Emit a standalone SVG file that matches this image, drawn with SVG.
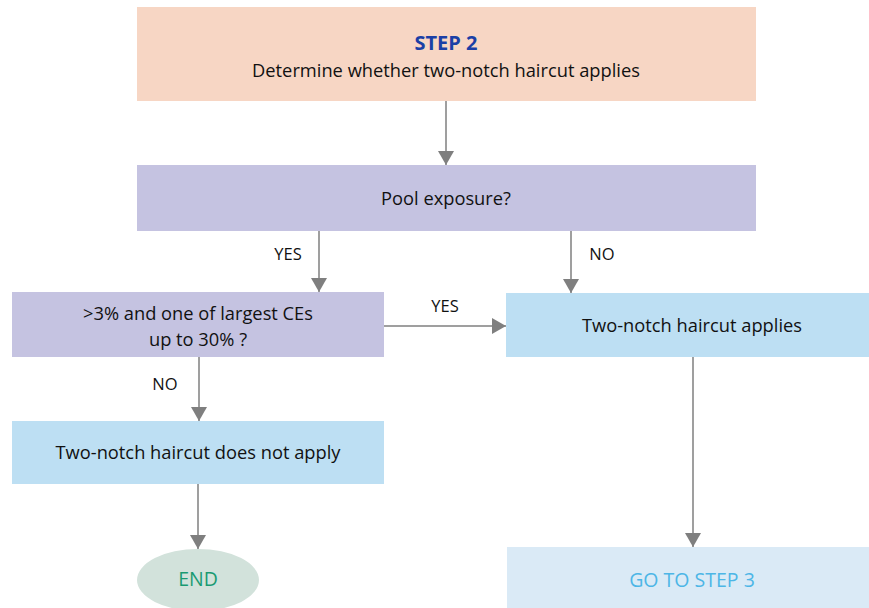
<svg xmlns="http://www.w3.org/2000/svg" width="869" height="608" viewBox="0 0 869 608">
<defs>
<marker id="ah" viewBox="0 0 14 16" refX="14" refY="8" markerWidth="14" markerHeight="16" markerUnits="userSpaceOnUse" orient="auto">
<path d="M0,0 L14,8 L0,16 Z" fill="#7f7f7f"/>
</marker>
</defs>
<style>
text{font-family:"Open Sans","Liberation Sans",sans-serif;font-size:18.3px;fill:#111;text-anchor:middle}
.lbl{font-size:16.5px}
.step{font-weight:bold;fill:#1b3fa6;font-size:20px}
.end{fill:#1a9a72;font-size:19.5px}
.go{fill:#4db6e6;font-size:19.5px}
.conn path{stroke:#7f7f7f;stroke-width:1.5;fill:none;marker-end:url(#ah)}
</style>
<g id="step2">
<rect x="137" y="7" width="619" height="94" fill="#f7d6c4"/>
<text class="step" x="446" y="50">STEP 2</text>
<text x="446" y="77">Determine whether two-notch haircut applies</text>
</g>
<g id="pool">
<rect x="137" y="165" width="619" height="66" fill="#c5c3e1"/>
<text x="446" y="205">Pool exposure?</text>
</g>
<g id="largest">
<rect x="12" y="292" width="372" height="65" fill="#c5c3e1"/>
<text x="198" y="320">&gt;3% and one of largest CEs</text>
<text x="198" y="346">up to 30% ?</text>
</g>
<g id="applies">
<rect x="506" y="293" width="363" height="64" fill="#bddff3"/>
<text x="692" y="332">Two-notch haircut applies</text>
</g>
<g id="notapply">
<rect x="12" y="421" width="372" height="63" fill="#bddff3"/>
<text x="198" y="459">Two-notch haircut does not apply</text>
</g>
<g id="end">
<ellipse cx="198" cy="580" rx="61" ry="31" fill="#d2e2db"/>
<text class="end" x="198" y="586">END</text>
</g>
<g id="step3">
<rect x="507" y="547" width="362" height="61" fill="#daeaf6"/>
<text class="go" x="692" y="587">GO TO STEP 3</text>
</g>
<g class="conn" id="connectors">
<path d="M446,101 V165"/>
<path d="M319,231 V292"/>
<path d="M571,231 V293"/>
<path d="M384,326 H506"/>
<path d="M199,357 V421"/>
<path d="M198,484 V549"/>
<path d="M693,357 V547"/>
<text class="lbl" x="288" y="260">YES</text>
<text class="lbl" x="602" y="260">NO</text>
<text class="lbl" x="445" y="312">YES</text>
<text class="lbl" x="165" y="390">NO</text>
</g>
</svg>
